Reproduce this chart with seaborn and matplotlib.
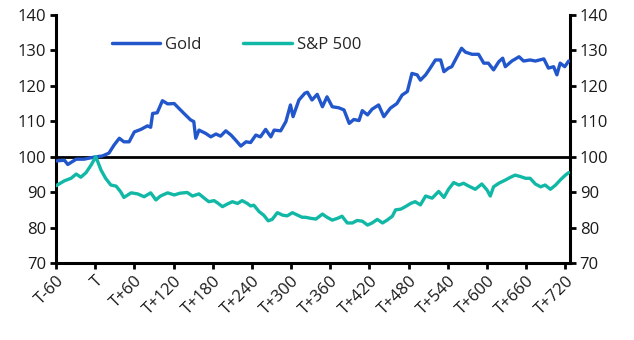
import matplotlib
matplotlib.use("Agg")
import matplotlib.pyplot as plt
import seaborn as sns
import pandas as pd

# ---- data ----
gold_days = [-60, -47, -42, -29, -17, -1, 11, 21, 29, 37, 44, 52, 60, 70, 80, 85, 88, 95,
             103, 111, 121, 129, 136, 146, 151, 154, 159, 169, 177, 185, 192, 200, 208,
             215, 223, 231, 238, 246, 253, 261, 269, 274, 284, 292, 299, 303, 312, 321,
             325, 332, 340, 348, 355, 363, 373, 381, 389, 396, 404, 409, 417, 424, 434,
             442, 452, 462, 470, 478, 485, 493, 498, 506, 513, 521, 529, 534, 541, 546,
             554, 561, 567, 577, 587, 595, 602, 610, 618, 624, 628, 638, 649, 656, 666,
             674, 687, 694, 702, 707, 712, 719, 725]
gold_vals = [98.8, 99.0, 97.8, 99.3, 99.3, 99.9, 100.2, 101.0, 103.3, 105.2, 104.2, 104.2,
             107.0, 107.7, 108.7, 108.3, 112.2, 112.4, 115.8, 114.9, 115.0, 113.5, 112.2,
             110.4, 109.9, 105.2, 107.5, 106.6, 105.6, 106.4, 105.8, 107.3, 106.1, 104.7,
             103.0, 104.2, 104.0, 106.1, 105.6, 107.7, 105.6, 107.5, 107.3, 109.9, 114.6,
             111.3, 116.0, 117.9, 118.2, 116.0, 117.6, 114.1, 116.9, 114.1, 113.8, 113.2,
             109.4, 110.5, 110.2, 113.0, 111.8, 113.4, 114.6, 111.3, 113.7, 115.0, 117.4,
             118.4, 123.5, 123.1, 121.6, 123.1, 125.0, 127.3, 127.3, 124.0, 125.0, 125.4,
             128.2, 130.6, 129.5, 128.9, 128.9, 126.4, 126.4, 124.5, 126.8, 127.8, 125.4,
             127.0, 128.2, 127.0, 127.3, 127.0, 127.6, 125.0, 125.4, 123.1, 126.4, 125.4,
             127.0]

sp_days = [-60, -47, -37, -29, -22, -14, -6, 1, 9, 16, 24, 32, 39, 44, 55, 65, 75, 85, 93,
           100, 111, 121, 130, 141, 149, 159, 167, 174, 182, 187, 195, 202, 210, 218, 225,
           233, 238, 243, 251, 258, 265, 271, 279, 287, 294, 302, 310, 317, 322, 330, 338,
           348, 355, 363, 371, 378, 386, 394, 401, 409, 417, 424, 432, 440, 447, 455, 460,
           468, 475, 483, 490, 498, 506, 516, 526, 534, 541, 549, 557, 564, 572, 582, 592,
           600, 605, 610, 618, 628, 636, 643, 651, 659, 666, 674, 682, 689, 697, 705, 712,
           720, 725]
sp_vals = [91.8, 93.2, 93.9, 95.1, 94.2, 95.5, 97.7, 100.0, 96.2, 93.9, 92.0, 91.7, 90.1,
           88.5, 89.8, 89.5, 88.7, 89.8, 87.8, 88.9, 89.8, 89.2, 89.7, 89.9, 88.9, 89.5,
           88.3, 87.3, 87.6, 87.0, 85.9, 86.6, 87.3, 86.8, 87.6, 86.8, 86.1, 86.3, 84.5,
           83.5, 81.9, 82.3, 84.2, 83.5, 83.3, 84.2, 83.5, 82.9, 82.9, 82.6, 82.4, 83.8,
           82.9, 82.1, 82.6, 83.2, 81.3, 81.3, 82.0, 81.8, 80.7, 81.3, 82.3, 81.3, 82.1,
           83.2, 85.0, 85.2, 85.9, 86.8, 87.3, 86.4, 88.9, 88.3, 90.2, 88.5, 90.8, 92.7,
           92.0, 92.5, 91.7, 90.8, 92.3, 90.6, 88.9, 91.5, 92.5, 93.4, 94.2, 94.8, 94.4,
           93.9, 93.9, 92.3, 91.5, 92.0, 90.8, 92.0, 93.4, 94.8, 95.5]

series_names = ["Gold", "S&P 500"]
series_colors = ["#2257CC", "#12B8A6"]
tick_pos = list(range(-60, 721, 60))
tick_labels = ["T-60", "T"] + [f"T+{d}" for d in range(60, 721, 60)]
y_ticks = list(range(70, 141, 10))

df = pd.concat([
    pd.DataFrame({"day": gold_days, "value": gold_vals, "series": series_names[0]}),
    pd.DataFrame({"day": sp_days, "value": sp_vals, "series": series_names[1]}),
])

sns.set_style("white")
plt.rcParams["font.family"] = ["Open Sans", "DejaVu Sans"]

fig = plt.figure(figsize=(6.34, 3.40), dpi=100)
ax = fig.add_axes([0.0883, 0.2265, 0.8107, 0.7295])

ax.axhline(100, color="black", lw=2.0, zorder=1)
sns.lineplot(data=df, x="day", y="value", hue="series", palette=series_colors,
             hue_order=series_names, lw=2.4, ax=ax, zorder=3, legend=True)

ax.set_xlim(-60, 727)
ax.set_ylim(70, 140)
ax.set_xticks(tick_pos)
ax.set_xticklabels(tick_labels, rotation=45, ha="right", rotation_mode="anchor")
ax.set_yticks(y_ticks)
ax.set_xlabel("")
ax.set_ylabel("")

for s in ["left", "right", "bottom"]:
    ax.spines[s].set_visible(True)
    ax.spines[s].set_color("black")
    ax.spines[s].set_linewidth(2.2)
ax.spines["top"].set_visible(False)

ax.tick_params(axis="both", direction="out", length=4, width=2, color="black",
               labelsize=12, labelcolor="#1a1a1a")
ax.tick_params(axis="y", right=True, labelright=True, left=True, labelleft=True, pad=3)
ax.tick_params(axis="x", bottom=True, pad=3)

leg = ax.legend(loc="center left", bbox_to_anchor=(0.08, 0.88), ncol=2, frameon=False,
                fontsize=12, handlelength=2.9, handletextpad=0.3, columnspacing=2.5)
for h in leg.get_lines():
    h.set_linewidth(2.5)

fig.savefig("out.png", dpi=100)
